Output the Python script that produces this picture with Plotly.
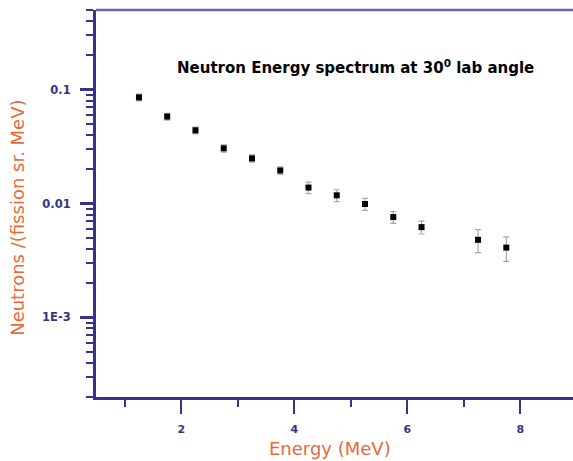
import plotly.graph_objects as go

# Neutron energy bins (MeV) and measured yields
energy = [1.25, 1.75, 2.25, 2.75, 3.25, 3.75, 4.25, 4.75, 5.25, 5.75, 6.25, 7.25, 7.75]
neutrons = [0.0855, 0.058, 0.0439, 0.0305, 0.0249, 0.0195, 0.0138, 0.0118,
            0.0099, 0.0076, 0.0062, 0.0048, 0.0041]
# absolute uncertainties
err = [0.006, 0.004, 0.003, 0.0022, 0.0018, 0.0015, 0.0016, 0.0014,
       0.0012, 0.0009, 0.0008, 0.0011, 0.0010]

x_major = [2, 4, 6, 8]
x_minor = [1, 3, 5, 7]
y_major = [0.001, 0.01, 0.1]
y_major_text = ["1E-3", "0.01", "0.1"]
y_minor = [m * 10.0 ** e for e in (-4, -3, -2, -1) for m in range(2, 10)
           if 2e-4 <= m * 10.0 ** e <= 0.5]

AXIS = "#38338a"
LABEL = "#e8693a"
FONT = "DejaVu Sans, Arial, sans-serif"

fig = go.Figure()
fig.add_trace(go.Scatter(
    x=energy, y=neutrons, mode="markers",
    marker=dict(symbol="square", size=6, color="black"),
    error_y=dict(type="data", array=err, color="#a8a8a8", thickness=1.2, width=3),
    showlegend=False,
))

fig.update_layout(
    width=573, height=461,
    margin=dict(l=96, r=0, t=10, b=64),
    paper_bgcolor="white", plot_bgcolor="white",
    font=dict(family=FONT),
    xaxis=dict(
        range=[0.49, 8.93], showgrid=False, zeroline=False,
        showline=True, linecolor=AXIS, linewidth=3,
        ticks="outside", tickvals=x_major, ticklen=14, tickwidth=2, tickcolor=AXIS,
        ticklabelstandoff=6,
        tickfont=dict(size=11, color=AXIS, family=FONT, weight="bold"),
        minor=dict(tickvals=x_minor, ticks="outside", ticklen=7, tickwidth=2, tickcolor=AXIS),
    ),
    yaxis=dict(
        type="log", range=[-3.699, -0.301], showgrid=False, zeroline=False,
        showline=True, linecolor=AXIS, linewidth=3,
        ticks="outside", tickvals=y_major, ticktext=y_major_text,
        ticklen=13, tickwidth=2.5, tickcolor=AXIS,
        ticklabelstandoff=7,
        tickfont=dict(size=11.5, color=AXIS, family=FONT, weight="bold"),
        minor=dict(tickvals=y_minor, ticks="outside", ticklen=7, tickwidth=2, tickcolor=AXIS),
    ),
    shapes=[dict(type="line", xref="paper", yref="paper", x0=0, x1=1, y0=1, y1=1,
                 line=dict(color="#6d63b0", width=2.5))],
    annotations=[
        dict(text="<b>Neutron Energy spectrum at 30<sup>0</sup> lab angle</b>",
             xref="paper", yref="paper", x=0.545, y=0.853,
             xanchor="center", yanchor="middle", showarrow=False,
             font=dict(size=15, color="black", family=FONT)),
        dict(text="Energy (MeV)", xref="paper", yref="paper", x=0.49, y=-0.132,
             xanchor="center", yanchor="middle", showarrow=False,
             font=dict(size=18, color=LABEL, family=FONT)),
        dict(text="Neutrons /(fission sr. MeV)", xref="paper", yref="paper",
             x=-0.166, y=0.4625, xanchor="center", yanchor="middle", textangle=-90,
             showarrow=False, font=dict(size=18, color=LABEL, family=FONT)),
    ],
)

fig.write_html("out.html")
